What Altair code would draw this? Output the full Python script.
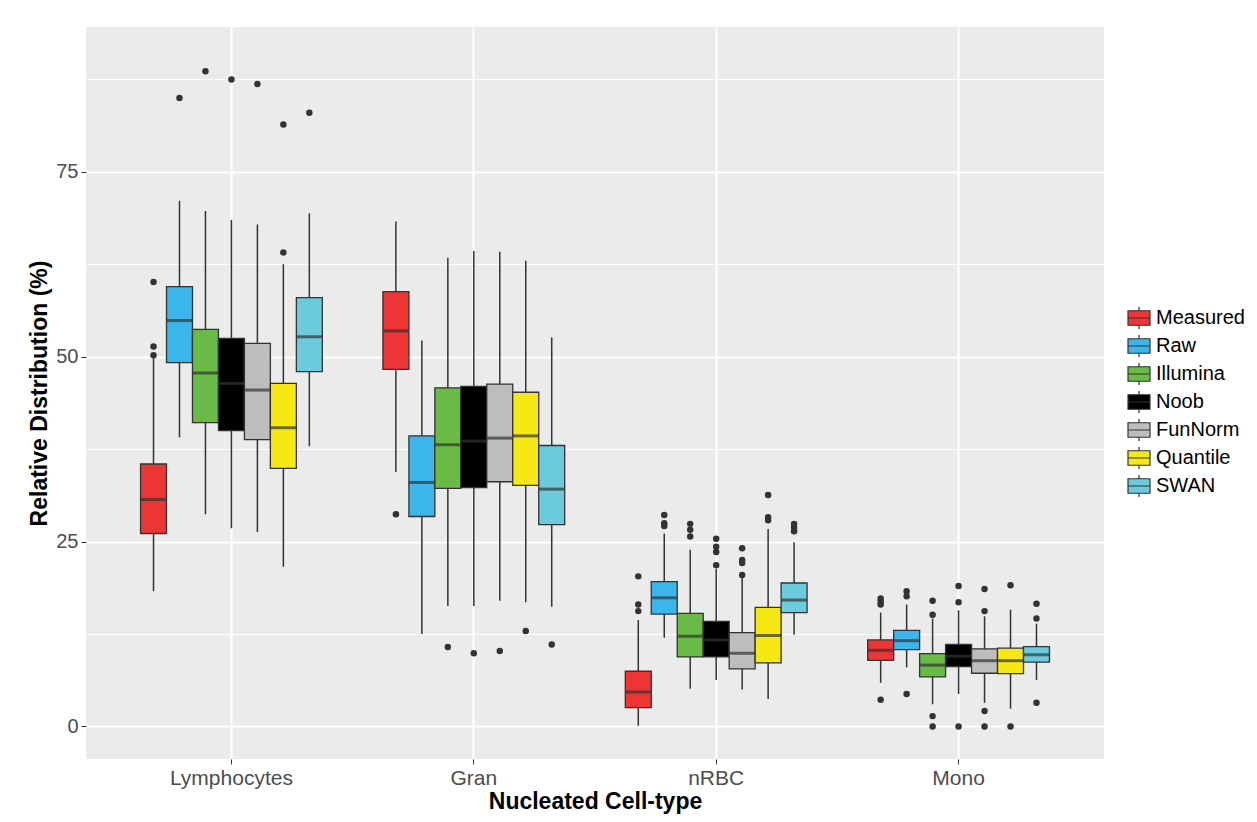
import altair as alt
import pandas as pd

cells = ["Lymphocytes", "Gran", "nRBC", "Mono"]
methods = ["Measured", "Raw", "Illumina", "Noob", "FunNorm", "Quantile", "SWAN"]
colors = ["#EE3536", "#3BB5EA", "#69BB45", "#000000", "#BDBDBD", "#F5E813", "#6BCBDC"]

# per cell: values in method order
lower = {
    "Lymphocytes": [18.3, 39.1, 28.7, 26.8, 26.3, 21.6, 37.9],
    "Gran": [34.4, 12.5, 16.3, 16.3, 17.0, 16.8, 16.2],
    "nRBC": [0.1, 12.0, 5.1, 6.3, 5.0, 3.7, 12.4],
    "Mono": [5.9, 8.0, 3.0, 4.4, 3.2, 2.4, 6.3],
}
q1 = {
    "Lymphocytes": [26.1, 49.2, 41.1, 40.0, 38.8, 34.9, 48.0],
    "Gran": [48.3, 28.4, 32.2, 32.3, 33.1, 32.6, 27.3],
    "nRBC": [2.56, 15.2, 9.4, 9.4, 7.8, 8.6, 15.4],
    "Mono": [8.95, 10.4, 6.7, 8.1, 7.2, 7.15, 8.7],
}
median = {
    "Lymphocytes": [30.7, 54.9, 47.8, 46.4, 45.5, 40.4, 52.7],
    "Gran": [53.5, 33.0, 38.1, 38.6, 39.0, 39.3, 32.1],
    "nRBC": [4.67, 17.4, 12.2, 11.7, 9.9, 12.3, 17.1],
    "Mono": [10.3, 11.6, 8.3, 9.5, 8.9, 8.9, 9.7],
}
q3 = {
    "Lymphocytes": [35.5, 59.5, 53.7, 52.5, 51.8, 46.4, 58.0],
    "Gran": [58.8, 39.3, 45.8, 46.0, 46.3, 45.2, 38.0],
    "nRBC": [7.47, 19.6, 15.3, 14.2, 12.7, 16.1, 19.4],
    "Mono": [11.7, 13.0, 9.85, 11.1, 10.5, 10.6, 10.8],
}
upper = {
    "Lymphocytes": [50.1, 71.1, 69.7, 68.5, 67.9, 62.5, 69.4],
    "Gran": [68.3, 52.2, 63.4, 64.3, 64.2, 63.0, 52.6],
    "nRBC": [14.4, 26.1, 23.9, 21.3, 20.1, 26.7, 24.9],
    "Mono": [15.4, 16.5, 14.6, 15.7, 14.9, 15.8, 13.9],
}
outliers = {
    "Lymphocytes": [[50.2, 51.4, 60.1], [85.0], [88.6], [87.5], [86.9], [64.1, 81.4], [83.0]],
    "Gran": [[28.7], [], [10.75], [9.9], [10.2], [12.9], [11.1]],
    "nRBC": [[15.6, 16.5, 20.3], [27.1, 27.5, 28.6], [25.7, 26.6, 27.4],
             [21.8, 23.6, 24.3, 25.4], [20.5, 22.1, 22.5, 24.1], [27.9, 28.3, 31.3],
             [26.4, 26.9, 27.4]],
    "Mono": [[3.6, 16.5, 16.9, 17.3], [4.4, 17.6, 18.3], [0.0, 1.4, 15.1, 17.0],
             [0.0, 16.8, 19.0], [0.0, 2.1, 15.6, 18.6], [0.0, 19.1], [3.2, 14.6, 16.6]],
}

rows = []
orows = []
for c in cells:
    for i, m in enumerate(methods):
        rows.append(dict(cell=c, method=m, lower=lower[c][i], q1=q1[c][i],
                         median=median[c][i], q3=q3[c][i], upper=upper[c][i]))
        for v in outliers[c][i]:
            orows.append(dict(cell=c, method=m, value=v))
box_df = pd.DataFrame(rows)
out_df = pd.DataFrame(orows)

FONT = "Liberation Sans"

x_enc = alt.X(
    "cell:N", sort=cells,
    scale=alt.Scale(paddingInner=0.25, paddingOuter=0.225),
    axis=alt.Axis(
        title="Nucleated Cell-type", titleFontSize=23, titleFontWeight="bold",
        titleColor="#000000", titleFont=FONT, titlePadding=2,
        labelFontSize=21, labelColor="#4D4D4D", labelFont=FONT, labelAngle=0,
        labelPadding=3, tickColor="#333333", tickSize=5, tickWidth=1,
        domain=False, grid=True, gridColor="#FFFFFF", gridWidth=2,
        bandPosition=0.5,
    ),
)
xo_enc = alt.XOffset("method:N", sort=methods,
                     scale=alt.Scale(paddingInner=0, paddingOuter=0))

y_scale = alt.Scale(domain=[-4.4, 94.6], nice=False, zero=False)
y_axis = alt.Axis(
    title="Relative Distribution (%)", titleFontSize=23, titleFontWeight="bold",
    titleColor="#000000", titleFont=FONT, titlePadding=4,
    values=[0, 12.5, 25, 37.5, 50, 62.5, 75, 87.5],
    labelExpr="datum.value % 25 == 0 ? datum.label : ''",
    labelFontSize=20, labelColor="#4D4D4D", labelFont=FONT, labelPadding=3,
    tickColor="#333333", tickSize=5, tickWidth=1,
    tickOpacity={"condition": {"test": "datum.value % 25 == 0", "value": 1}, "value": 0},
    domain=False, grid=True, gridColor="#FFFFFF",
    gridWidth={"condition": {"test": "datum.value % 25 == 0", "value": 2}, "value": 1},
)

# boxplot-like legend key: box, median line and whisker stubs
key_path = "M-1,-0.66H1V0.66H-1Z M-1,0H1 M0,-0.66V-1 M0,0.66V1"

base = alt.Chart(box_df)

whiskers = base.mark_rule(color="#333333", strokeWidth=1.5).encode(
    x=x_enc, xOffset=xo_enc,
    y=alt.Y("lower:Q", scale=y_scale, axis=y_axis),
    y2="upper:Q",
)

boxes = base.mark_bar(stroke="#333333", strokeWidth=1.3).encode(
    x=x_enc, xOffset=xo_enc,
    y=alt.Y("q1:Q", scale=y_scale, axis=y_axis),
    y2="q3:Q",
    fill=alt.Fill(
        "method:N", sort=methods,
        scale=alt.Scale(domain=methods, range=colors),
        legend=alt.Legend(
            title=None, orient="none", legendX=1041, legendY=279,
            symbolType=key_path, symbolSize=484, symbolStrokeColor="#333333",
            symbolStrokeWidth=1.2, labelFontSize=20, labelFont=FONT,
            labelColor="#000000", labelOffset=5, rowPadding=0, padding=0,
        ),
    ),
)

medians = base.mark_tick(color="#333333", thickness=3, size=26, orient="horizontal").encode(
    x=x_enc, xOffset=xo_enc,
    y=alt.Y("median:Q", scale=y_scale, axis=y_axis),
)

points = alt.Chart(out_df).mark_circle(color="#333333", opacity=1, size=42).encode(
    x=x_enc, xOffset=xo_enc,
    y=alt.Y("value:Q", scale=y_scale, axis=y_axis),
)

chart = alt.layer(whiskers, boxes, medians, points).properties(
    width=1018, height=732,
    autosize=alt.AutoSizeParams(type="none"),
    padding={"left": 78, "top": 19, "right": 145, "bottom": 55},
).configure_view(
    fill="#EBEBEB", stroke=None,
)

chart.save("out.html", embed_options={"renderer": "svg", "actions": False})
